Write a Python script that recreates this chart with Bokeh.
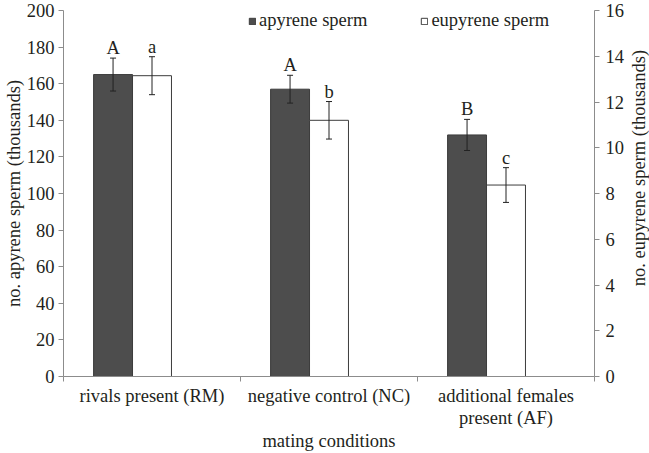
import numpy as np
from bokeh.plotting import figure
from bokeh.layouts import row
from bokeh.models import (Range1d, LinearAxis, FixedTicker, ColumnDataSource,
                          Whisker, TeeHead, Legend, LegendItem, Label)
from bokeh.embed import file_html
from bokeh.resources import INLINE
from bokeh.core.properties import value

categories = ["rivals present (RM)", "negative control (NC)", "additional females\npresent (AF)"]
apyrene_mean = [165, 157, 132]
apyrene_se = [9, 7.6, 8.5]
eupyrene_mean = [13.15, 11.2, 8.37]
eupyrene_se = [0.83, 0.82, 0.76]
apyrene_letters = ["A", "A", "B"]
eupyrene_letters = ["a", "b", "c"]
left_ticks = list(range(0, 201, 20))
right_ticks = list(range(0, 17, 2))

FONT = "Liberation Serif"
FS = "18.5px"
TXT = "#231f20"
AX = "#8c8c8c"
DARK = "#4d4d4d"
BW = 0.22
H = 453

idx = np.arange(len(categories))
x_apy = idx + 0.5 - BW
x_eu = idx + 0.5

p = figure(width=627, height=H, output_backend="svg", toolbar_location=None,
           x_range=Range1d(0, len(categories)), y_range=Range1d(0, 200),
           min_border_left=63, min_border_right=33, min_border_top=10, min_border_bottom=73)
p.extra_y_ranges = {"eu": Range1d(0, 16)}
p.outline_line_color = None
p.xgrid.visible = False
p.ygrid.visible = False
p.xaxis.visible = False
p.yaxis.visible = False

src_a = ColumnDataSource(dict(x=x_apy, top=apyrene_mean,
                              up=np.array(apyrene_mean) + np.array(apyrene_se),
                              lo=np.array(apyrene_mean) - np.array(apyrene_se),
                              lab=apyrene_letters))
src_e = ColumnDataSource(dict(x=x_eu, top=eupyrene_mean,
                              up=np.array(eupyrene_mean) + np.array(eupyrene_se),
                              lo=np.array(eupyrene_mean) - np.array(eupyrene_se),
                              lab=eupyrene_letters))

r_a = p.vbar(x="x", top="top", width=BW, source=src_a, fill_color=DARK, line_color="#3c3c3c", line_width=1)
r_e = p.vbar(x="x", top="top", width=BW, source=src_e, fill_color="white", line_color="#3c3c3c",
             line_width=1, y_range_name="eu")

for src, rn in ((src_a, "default"), (src_e, "eu")):
    w = Whisker(base="x", upper="up", lower="lo", source=src, dimension="height",
                line_color="#222222", line_width=1, y_range_name=rn, level="overlay",
                upper_head=TeeHead(size=6, line_color="#222222", line_width=1),
                lower_head=TeeHead(size=6, line_color="#222222", line_width=1))
    p.add_layout(w)
    p.text(x="x", y="up", text="lab", source=src, y_range_name=rn,
           text_font=value(FONT), text_font_size=FS, text_color=TXT,
           text_align="center", text_baseline="alphabetic", y_offset=-10)

def style(ax):
    ax.axis_line_color = AX
    ax.major_tick_line_color = AX
    ax.major_tick_out = 5
    ax.major_tick_in = 0
    ax.minor_tick_line_color = None
    ax.major_label_text_font = FONT
    ax.major_label_text_font_size = FS
    ax.major_label_text_color = TXT
    ax.axis_label_text_font = FONT
    ax.axis_label_text_font_size = FS
    ax.axis_label_text_font_style = "normal"
    ax.axis_label_text_color = TXT

yl = LinearAxis(ticker=FixedTicker(ticks=left_ticks), axis_label="no. apyrene sperm (thousands)")
style(yl)
yl.major_label_standoff = 4
yl.axis_label_standoff = 0
p.add_layout(yl, "left")

yr = LinearAxis(y_range_name="eu", ticker=FixedTicker(ticks=right_ticks))
style(yr)
yr.major_label_standoff = 6
p.add_layout(yr, "right")

xb = LinearAxis(ticker=FixedTicker(ticks=list(idx + 0.5), minor_ticks=list(range(len(categories) + 1))),
                axis_label="mating conditions",
                major_label_overrides={float(i + 0.5): c for i, c in enumerate(categories)})
style(xb)
xb.major_tick_line_color = None
xb.minor_tick_line_color = AX
xb.minor_tick_out = 5
xb.minor_tick_in = 0
xb.major_tick_out = 5
xb.major_label_standoff = 4
xb.major_label_text_line_height = 1.1
xb.axis_label_standoff = 0
xb.axis_label_text_line_height = 1.0
p.add_layout(xb, "below")

leg = Legend(items=[LegendItem(label="apyrene sperm", renderers=[r_a]),
                    LegendItem(label="eupyrene sperm", renderers=[r_e])],
             orientation="horizontal", location=(185, 345),
             border_line_color=None, background_fill_alpha=0,
             label_text_font=FONT, label_text_font_size=FS, label_text_color=TXT,
             label_text_line_height=1.0,
             glyph_width=8, glyph_height=8, label_standoff=3, spacing=53,
             padding=0, margin=0, label_height=18)
p.add_layout(leg)

# narrow companion panel holding the right-hand axis title, reading bottom-to-top
p2 = figure(width=649 - 627, height=H, output_backend="svg", toolbar_location=None,
            x_range=Range1d(0, 1), y_range=Range1d(0, 1), min_border=0)
p2.outline_line_color = None
p2.axis.visible = False
p2.grid.visible = False
p2.add_layout(Label(x=0.5, y=1 - (10 + 380) / 2 / H,
                    text="no. eupyrene sperm (thousands)", angle=np.pi / 2,
                    text_font=FONT, text_font_size=FS, text_color=TXT,
                    text_align="center", text_baseline="middle"))

layout = row(p, p2, spacing=0)
open("out.html", "w").write(file_html(layout, INLINE))
